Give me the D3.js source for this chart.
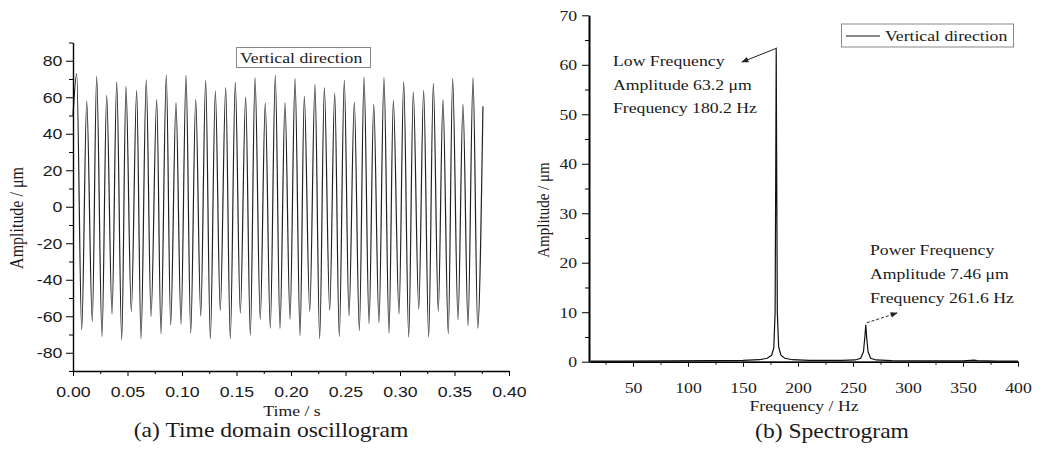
<!DOCTYPE html>
<html>
<head>
<meta charset="utf-8">
<script src="https://cdn.jsdelivr.net/npm/d3@7"></script>
<style>
  body { margin: 0; background: #fff; }
  svg { display: block; }
  text { fill: #1a1a1a; }
</style>
</head>
<body>
<script>
// time domain: peak / trough times (s) and amplitudes (um)
const peakT = [0.0034,0.0126,0.0217,0.0309,0.0401,0.0486,0.0584,0.0672,0.0768,0.0856,0.0945,0.1037,0.1126,0.1217,0.1306,0.1401,0.1489,0.1584,0.1670,0.1764,0.1856,0.1945,0.2037,0.2122,0.2220,0.2306,0.2401,0.2489,0.2581,0.2670,0.2759,0.2853,0.2939,0.3034,0.3122,0.3217,0.3306,0.3394,0.3483,0.3578,0.3670];
const peakV = [72.9,57.8,71.5,61,68.4,66,63.8,69.6,58.7,72.2,56.9,72,58.7,69.3,63.4,65.3,68.2,60.1,70.7,56.9,72,57,70.2,60.5,67.1,65.3,62.3,69.3,57.4,71.1,56.1,70.7,58.3,68.4,62.9,63.8,67.5,58.7,70.2,56.1,70.7];
const troughT = [0.0080,0.0177,0.0266,0.0358,0.0447,0.0535,0.0624,0.0716,0.0807,0.0896,0.0991,0.1080,0.1172,0.1260,0.1351,0.1443,0.1535,0.1627,0.1718,0.1810,0.1899,0.1991,0.2083,0.2172,0.2263,0.2355,0.2443,0.2532,0.2627,0.2716,0.2807,0.2899,0.2991,0.3080,0.3172,0.3263,0.3351,0.3443,0.3532,0.3624,0.3713];
const troughV = [-67.4,-62.9,-71.1,-58.7,-72.9,-57.4,-72.3,-60.1,-69.6,-64.7,-64.3,-69.2,-59.8,-72.3,-56.9,-72.3,-58.3,-70.3,-61.6,-66.5,-66.7,-61.6,-70.7,-57.4,-72.3,-56.9,-71.1,-59.8,-67.8,-64.1,-63.4,-69.2,-58.7,-71.4,-56.1,-71.4,-57.4,-69.6,-61.9,-65.2,-66.5];
const startPt = [0, 50];
const endPt = [0.3761, 55];

// spectrum
const freq = [10,40,80,120,150,165,172,176,178,179.2,179.8,180.2,180.6,181.2,182.4,184.5,188,195,210,240,252,257,259.5,260.8,261.6,262.4,263.7,266,271,285,320,350,357,360,363,380,400];
const amp  = [0.1,0.1,0.15,0.2,0.25,0.4,0.7,1.3,2.8,10,40,63.2,40,10,3,1.3,0.7,0.4,0.25,0.25,0.35,0.7,2,5,7.46,5,2,0.7,0.35,0.2,0.15,0.15,0.25,0.3,0.2,0.12,0.1];

const timeTicks = [0,0.05,0.1,0.15,0.2,0.25,0.3,0.35,0.4];
const ampTicks = [-80,-60,-40,-20,0,20,40,60,80];
const freqTicks = [50,100,150,200,250,300,350,400];
const specTicks = [0,10,20,30,40,50,60,70];

const lowNote = ["Low Frequency", "Amplitude 63.2 \u03bcm", "Frequency 180.2 Hz"];
const powNote = ["Power Frequency", "Amplitude 7.46 \u03bcm", "Frequency 261.6 Hz"];

const SX = 1.18; // the source figure is stretched sideways
const serif = "'Liberation Serif','Times New Roman',serif";
const sans = "'Liberation Sans',Arial,sans-serif";

var svg = d3.select("body").append("svg")
    .attr("width", 1044).attr("height", 449);

function txt(x, y, s, size, family, anchor, rot) {
  return svg.append("text")
    .attr("transform", "translate(" + x + "," + y + ") scale(" + SX + ",1)" + (rot ? " rotate(" + rot + ")" : ""))
    .attr("text-anchor", anchor || "start")
    .style("font-size", size + "px")
    .style("font-family", family)
    .text(s);
}

svg.append("defs").append("marker")
    .attr("id", "arr").attr("viewBox", "0 0 10 10")
    .attr("refX", 9).attr("refY", 5)
    .attr("markerWidth", 9).attr("markerHeight", 7)
    .attr("markerUnits", "userSpaceOnUse")
    .attr("orient", "auto")
  .append("path").attr("d", "M0,1L10,5L0,9z").attr("fill", "#222");

// ---------- (a) time domain ----------
var xT = d3.scaleLinear().domain([0, 0.4]).range([73, 509]);
var yT = d3.scaleLinear().domain([-90, 90]).range([371, 42.5]);

var pts = [startPt];
peakT.forEach(function(t, i) {
  pts.push([t, peakV[i]]);
  pts.push([troughT[i], troughV[i]]);
});
pts.push(endPt);

svg.append("path")
    .datum(pts)
    .attr("fill", "none")
    .attr("stroke", "#222")
    .attr("stroke-width", 1.2)
    .attr("d", d3.line().x(d => xT(d[0])).y(d => yT(d[1])).curve(d3.curveMonotoneX));

var gxT = svg.append("g").attr("transform", "translate(0,371)");
gxT.call(d3.axisBottom(xT).tickValues(timeTicks).tickFormat(d3.format(".2f"))
    .tickSize(5).tickPadding(10).tickSizeOuter(0));
svg.append("g").attr("transform", "translate(0,371)")
    .call(d3.axisBottom(xT).tickValues(d3.range(0.025, 0.4, 0.05)).tickFormat("").tickSize(3).tickSizeOuter(0));
gxT.select(".domain").attr("stroke-width", 1.4);

var gyT = svg.append("g").attr("transform", "translate(73,0)");
gyT.call(d3.axisLeft(yT).tickValues(ampTicks).tickFormat(d => String(d))
    .tickSize(7).tickPadding(2).tickSizeOuter(0));
svg.append("g").attr("transform", "translate(73,0)")
    .call(d3.axisLeft(yT).tickValues([-90,-70,-50,-30,-10,10,30,50,70,90]).tickFormat("").tickSize(4).tickSizeOuter(0));
gyT.select(".domain").attr("stroke-width", 1.4);

[gxT, gyT].forEach(function(g) {
  g.selectAll("text").attr("transform", "scale(" + SX + ",1)")
    .style("font-size", "15px").style("font-family", sans).attr("fill", "#1a1a1a");
});

txt(292, 416, "Time / s", 15, serif, "middle");
txt(23, 218, "Amplitude / \u03bcm", 16, serif, "middle", -90);
txt(271, 437, "(a) Time domain oscillogram", 20, serif, "middle");

svg.append("rect").attr("x", 236.5).attr("y", 47.5).attr("width", 134).attr("height", 20)
    .attr("fill", "#fff").attr("stroke", "#888");
txt(240, 63, "Vertical direction", 15, serif);

// ---------- (b) spectrogram ----------
var xF = d3.scaleLinear().domain([10, 400]).range([589, 1018]);
var yF = d3.scaleLinear().domain([0, 70]).range([361.7, 15.3]);

svg.append("path")
    .datum(freq.map((f, i) => [f, amp[i]]))
    .attr("fill", "none")
    .attr("stroke", "#111")
    .attr("stroke-width", 1.2)
    .attr("d", d3.line().x(d => xF(d[0])).y(d => yF(d[1])));

var gxF = svg.append("g").attr("transform", "translate(0,361.7)");
gxF.call(d3.axisBottom(xF).tickValues(freqTicks).tickSize(5).tickPadding(16).tickSizeOuter(0));
svg.append("g").attr("transform", "translate(0,361.7)")
    .call(d3.axisBottom(xF).tickValues(d3.range(25, 400, 50)).tickFormat("").tickSize(3).tickSizeOuter(0));
gxF.select(".domain").attr("stroke-width", 1.5);

var gyF = svg.append("g").attr("transform", "translate(589,0)");
gyF.call(d3.axisLeft(yF).tickValues(specTicks).tickSize(7).tickPadding(3).tickSizeOuter(0));
svg.append("g").attr("transform", "translate(589,0)")
    .call(d3.axisLeft(yF).tickValues(d3.range(5, 70, 10)).tickFormat("").tickSize(4).tickSizeOuter(0));
gyF.select(".domain").attr("stroke", "#555").attr("stroke-width", 2.5);

[gxF, gyF].forEach(function(g) {
  g.selectAll("text").attr("transform", "scale(" + SX + ",1)")
    .style("font-size", "15px").style("font-family", serif).attr("fill", "#1a1a1a");
});

txt(804, 411, "Frequency / Hz", 15, serif, "middle");
txt(549, 210, "Amplitude / \u03bcm", 15, serif, "middle", -90);
txt(832, 438, "(b) Spectrogram", 20, serif, "middle");

// legend
svg.append("rect").attr("x", 841.5).attr("y", 24).attr("width", 172).attr("height", 23)
    .attr("fill", "#fff").attr("stroke", "#888");
svg.append("line").attr("x1", 846).attr("x2", 880).attr("y1", 36).attr("y2", 36)
    .attr("stroke", "#111").attr("stroke-width", 1.2);
txt(885, 41, "Vertical direction", 15, serif);

// annotations
lowNote.forEach((s, i) => txt(613, 66 + i * 23.5, s, 15, serif));
powNote.forEach((s, i) => txt(870, 255 + i * 24, s, 15, serif));

svg.append("line")
    .attr("x1", xF(180.2) + 1).attr("y1", yF(63.2) - 1)
    .attr("x2", 742).attr("y2", 62)
    .attr("stroke", "#222").attr("stroke-width", 1)
    .attr("marker-end", "url(#arr)");
svg.append("line")
    .attr("x1", xF(261.6) + 1).attr("y1", yF(7.46) - 2)
    .attr("x2", 897).attr("y2", 313)
    .attr("stroke", "#222").attr("stroke-width", 1)
    .attr("stroke-dasharray", "3,2")
    .attr("marker-end", "url(#arr)");
</script>
</body>
</html>
